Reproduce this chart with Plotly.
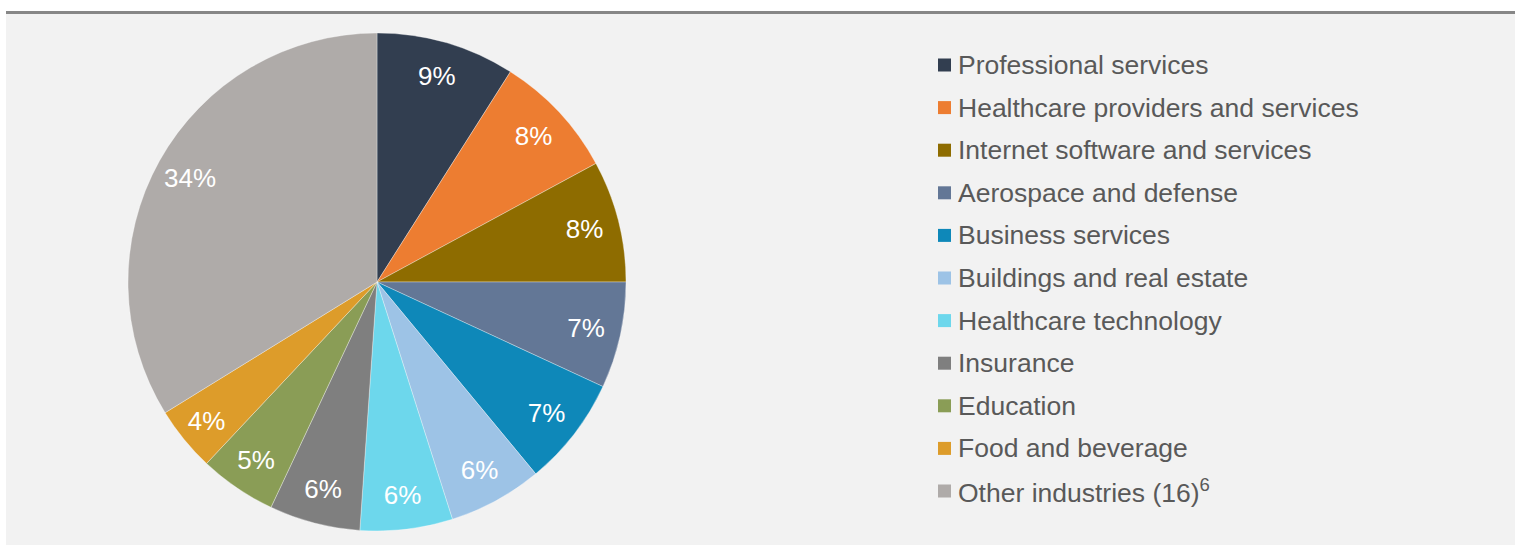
import plotly.graph_objects as go

W, H = 1515, 545

categories = [
    "Professional services",
    "Healthcare providers and services",
    "Internet software and services",
    "Aerospace and defense",
    "Business services",
    "Buildings and real estate",
    "Healthcare technology",
    "Insurance",
    "Education",
    "Food and beverage",
    "Other industries (16)<sup>6</sup>",
]
shares = [9.0, 8.1, 7.9, 6.9, 7.1, 6.1, 6.0, 5.9, 5.0, 4.2, 33.8]
colors = [
    "#323e50", "#ed7d31", "#8e6c00", "#637796", "#0e88b9", "#9dc3e6",
    "#6dd7ec", "#7f7f7f", "#8a9d56", "#dd9c2a", "#afaba9",
]

FONT = "Liberation Sans, Arial, sans-serif"

def px_x(x):
    return x / W

def px_y(y):
    return 1 - y / H

dom_x = [px_x(128), px_x(626)]
dom_y = [px_y(531), px_y(33)]

fig = go.Figure()
fig.add_trace(go.Pie(
    labels=categories, values=shares, sort=False, direction="clockwise", rotation=0,
    marker=dict(colors=colors, line=dict(color="rgba(255,255,255,0.55)", width=0.6)),
    textinfo="none", showlegend=False, domain=dict(x=dom_x, y=dom_y),
    hovertemplate="%{label}: %{percent:.0%}<extra></extra>",
))
fig.add_trace(go.Pie(
    labels=categories, values=shares, sort=False, direction="clockwise", rotation=0,
    hole=0.72,
    marker=dict(colors=["rgba(0,0,0,0)"] * len(shares), line=dict(width=0)),
    texttemplate="%{percent:.0%}", textposition="inside",
    insidetextorientation="horizontal",
    textfont=dict(family=FONT, size=26, color="white"),
    showlegend=False, hoverinfo="skip", domain=dict(x=dom_x, y=dom_y),
))

shapes = [
    dict(type="rect", xref="paper", yref="paper", x0=px_x(6), x1=1, y0=0, y1=px_y(13),
         fillcolor="#f2f2f2", line=dict(width=0), layer="below"),
    dict(type="line", xref="paper", yref="paper", x0=px_x(6), x1=1, y0=px_y(12.5), y1=px_y(12.5),
         line=dict(color="#878787", width=3), layer="below"),
]
annotations = []
row0, step = 65.0, 42.6
for i, (cat, col) in enumerate(zip(categories, colors)):
    cy = row0 + i * step
    shapes.append(dict(type="rect", xref="paper", yref="paper",
                       x0=px_x(938), x1=px_x(951), y0=px_y(cy + 6.5), y1=px_y(cy - 6.5),
                       fillcolor=col, line=dict(width=0)))
    annotations.append(dict(xref="paper", yref="paper", x=px_x(956), y=px_y(cy),
                            xanchor="left", yanchor="middle", showarrow=False, text=cat,
                            font=dict(family=FONT, size=26.5, color="#595959")))

fig.update_layout(
    width=W, height=H, margin=dict(l=0, r=0, t=0, b=0),
    paper_bgcolor="white", plot_bgcolor="white",
    shapes=shapes, annotations=annotations, showlegend=False,
)
fig.write_html(
    "out.html",
    config={"displayModeBar": False},
    post_script="document.body.style.margin='0';document.body.style.overflow='hidden';",
)
